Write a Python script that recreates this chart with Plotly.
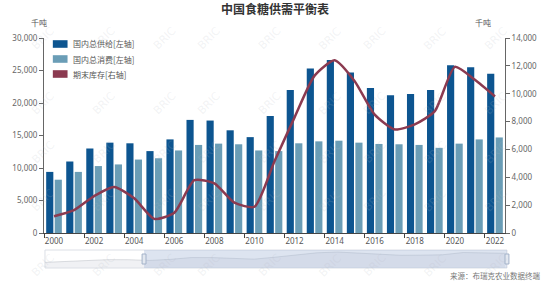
import plotly.graph_objects as go

years = [str(y) for y in range(2000, 2023)]
supply = [9400, 11000, 13000, 13900, 13800, 12600, 14400, 17400, 17300, 15800, 14750, 18000,
          22000, 25300, 26600, 24700, 22300, 21200, 21400, 22000, 25800, 25500, 24500]
consumption = [8200, 9400, 10300, 10550, 11300, 11500, 12700, 13550, 13750, 13650, 12700, 12600,
               13800, 14100, 14200, 13900, 13700, 13650, 13550, 13100, 13750, 14400, 14700]
stock = [1200, 1640, 2650, 3300, 2490, 1015, 1450, 3790, 3570, 2175, 1885, 5150,
         8300, 11300, 12400, 10900, 8500, 7430, 7800, 8750, 11930, 11000, 9800]

names = ["国内总供给[左轴]", "国内总消费[左轴]", "期末库存[右轴]"]
c_supply = "#0d5590"
c_cons = "#6a9db6"
c_stock = "#8b3a50"
colors = [c_supply, c_cons, c_stock]

W, H = 550, 290
ML, MR, MT, MB = 35, 45, 38, 22
PW, PH = W - ML - MR, H - MT - MB


def px(x):
    return (x - ML) / PW


def py(y):
    return (H - MB - y) / PH


fig = go.Figure()
fig.add_trace(go.Bar(x=years, y=supply, name=names[0], marker_color=c_supply,
                     marker_line_width=0, yaxis="y", xaxis="x"))
fig.add_trace(go.Bar(x=years, y=consumption, name=names[1], marker_color=c_cons,
                     marker_line_width=0, yaxis="y", xaxis="x"))
fig.add_trace(go.Scatter(x=years, y=stock, name=names[2], mode="lines",
                         line=dict(color=c_stock, width=2.5, shape="spline", smoothing=0.6),
                         yaxis="y2", xaxis="x"))
# data shadow in the zoom slider
fig.add_trace(go.Scatter(x=years, y=supply, mode="lines", hoverinfo="skip",
                         line=dict(color="rgba(160,165,175,0.45)", width=0.8),
                         fill="tozeroy", fillcolor="rgba(205,210,220,0.3)",
                         xaxis="x2", yaxis="y3"))

axis_font = dict(family="Noto Sans, sans-serif", size=8, color="#666666")
fig.update_layout(
    width=W, height=H,
    margin=dict(l=ML, r=MR, t=MT, b=MB),
    paper_bgcolor="white", plot_bgcolor="white",
    barmode="group", bargap=0.15, bargroupgap=0.16,
    showlegend=False,
    title=dict(text="<b>中国食糖供需平衡表</b>", x=0.5, xanchor="center", y=0.965, yanchor="middle",
               font=dict(family="Noto Sans CJK SC", size=12, color="#333333")),
    xaxis=dict(type="category", domain=[0, 1], anchor="y", dtick=2, tickson="boundaries",
               tickangle=0, ticks="outside", ticklen=4, tickcolor="#444", showline=True,
               linecolor="#444", linewidth=1, showgrid=False,
               tickfont=dict(family="Noto Sans, sans-serif", size=8, color="#555555")),
    yaxis=dict(domain=[py(233), 1.0], range=[0, 30000], dtick=5000, tickformat=",",
               ticks="outside", ticklen=4, tickcolor="#666", showline=True, linecolor="#666",
               linewidth=1, showgrid=False, zeroline=False, tickfont=axis_font),
    yaxis2=dict(overlaying="y", side="right", range=[0, 14000], dtick=2000, tickformat=",",
                ticks="outside", ticklen=4, tickcolor="#666", showline=True, linecolor="#666",
                linewidth=1, showgrid=False, zeroline=False, tickfont=axis_font, anchor="x"),
    xaxis2=dict(type="category", domain=[px(36), 1.0], anchor="y3", showticklabels=False,
                showgrid=False, zeroline=False, showline=False, ticks="", range=[0, 22],
                fixedrange=True),
    yaxis3=dict(domain=[0.0, py(250)], anchor="x2", range=[0, 30000], showticklabels=False,
                showgrid=False, zeroline=False, showline=False, ticks="", fixedrange=True),
)

shapes = []
# slider outer border
shapes.append(dict(type="rect", xref="paper", yref="paper", x0=px(36), x1=px(507), y0=py(268),
                   y1=py(250), line=dict(color="#dcdfe6", width=1), fillcolor="rgba(0,0,0,0)",
                   layer="above"))
# selected area
shapes.append(dict(type="rect", xref="paper", yref="paper", x0=px(137), x1=px(507), y0=py(268),
                   y1=py(250), line=dict(width=0), fillcolor="rgba(165,183,215,0.38)",
                   layer="above"))
# handles
for hx in (137, 507):
    shapes.append(dict(type="rect", xref="paper", yref="paper", x0=px(hx - 2), x1=px(hx + 2),
                       y0=py(264), y1=py(254), line=dict(color="#a3b2c9", width=1),
                       fillcolor="#e3e8f0", layer="above"))
# legend swatches
for i, cy in enumerate([44, 59, 74]):
    shapes.append(dict(type="rect", xref="paper", yref="paper", x0=px(44), x1=px(59),
                       y0=py(cy + 3.8), y1=py(cy - 3.8), line=dict(width=0),
                       fillcolor=colors[i], layer="above"))
fig.update_layout(shapes=shapes)

lab_font = dict(family="Noto Sans CJK SC", size=8, color="#555555")
ann = [
    dict(text="千吨", x=px(30), y=py(23), xref="paper", yref="paper", xanchor="center",
         yanchor="middle", showarrow=False, font=lab_font),
    dict(text="千吨", x=px(483), y=py(23), xref="paper", yref="paper", xanchor="center",
         yanchor="middle", showarrow=False, font=lab_font),
    dict(text="来源：布瑞克农业数据终端", x=px(543), y=py(275), xref="paper", yref="paper",
         xanchor="right", yanchor="middle", showarrow=False,
         font=dict(family="Noto Sans CJK SC", size=7.5, color="#777777")),
]
for i, cy in enumerate([44, 59, 74]):
    ann.append(dict(text=names[i], x=px(63), y=py(cy), xref="paper", yref="paper",
                    xanchor="left", yanchor="middle", showarrow=False, font=lab_font))
# faint watermark
for r, wy in enumerate([22, 87, 152, 217, 282]):
    for c in range(9):
        wx = 17 + 62 * c
        ann.append(dict(text="BRIC", x=px(wx), y=py(wy), xref="paper", yref="paper",
                        showarrow=False, textangle=-45,
                        font=dict(family="DejaVu Sans", size=11, color="rgba(180,185,195,0.18)")))
fig.update_layout(annotations=ann)

fig.write_html("out.html")
